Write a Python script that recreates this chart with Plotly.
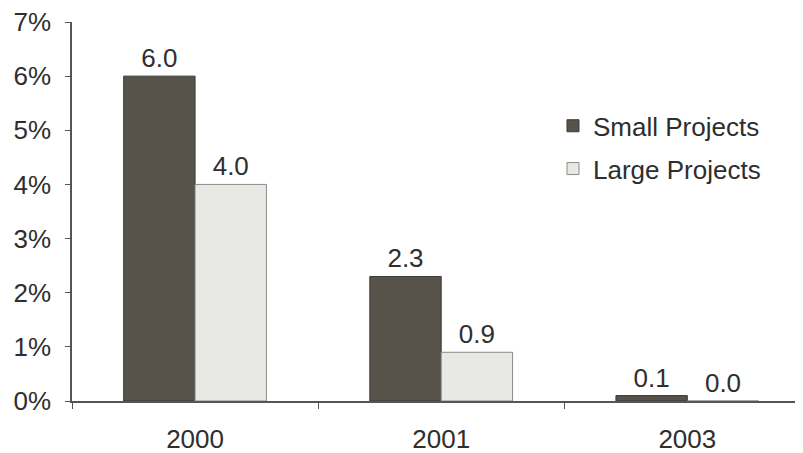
import plotly.graph_objects as go

categories = ["2000", "2001", "2003"]
small_projects = [6.0, 2.3, 0.1]
large_projects = [4.0, 0.9, 0.0]
y_ticks = [0, 1, 2, 3, 4, 5, 6, 7]
y_tick_labels = [f"{v}%" for v in y_ticks]

font_family = "Liberation Sans, Arial, sans-serif"
text_color = "#2e2e2e"
fs = 26

fig = go.Figure()
fig.add_trace(go.Bar(
    x=categories, y=small_projects, name="Small Projects",
    marker=dict(color="#57534b", line=dict(color="#3c3a36", width=1)),
    text=[f"{v:.1f}" for v in small_projects], textposition="outside",
    textfont=dict(size=fs, color=text_color, family=font_family),
    cliponaxis=False, legendgroup="a",
))
fig.add_trace(go.Bar(
    x=categories, y=large_projects, name="Large Projects",
    marker=dict(color="#e8e8e4", line=dict(color="#8a8a86", width=1)),
    text=[f"{v:.1f}" for v in large_projects], textposition="outside",
    textfont=dict(size=fs, color=text_color, family=font_family),
    cliponaxis=False, legendgroup="b",
))

fig.update_layout(
    width=803, height=453,
    margin=dict(l=64, r=8, t=14, b=60, autoexpand=False),
    paper_bgcolor="white", plot_bgcolor="white",
    barmode="group", bargap=0.42, bargroupgap=0,
    font=dict(family=font_family, size=fs, color=text_color),
    showlegend=True,
    legend=dict(x=0.658, y=0.788, xanchor="left", yanchor="top",
                font=dict(size=fs, color=text_color, family=font_family),
                bgcolor="rgba(0,0,0,0)", tracegroupgap=6,
                itemwidth=30),
)
fig.update_xaxes(
    range=[-0.5, 2.47], showline=True, linecolor="#555", linewidth=1.5,
    ticks="outside", tickson="boundaries", ticklen=6, tickcolor="#555",
    tickfont=dict(size=fs, color=text_color, family=font_family),
    ticklabelstandoff=14, ticklabeloverflow="allow",
    showgrid=False, fixedrange=True, automargin=False,
)
fig.update_yaxes(
    range=[0, 7], tickvals=y_ticks, ticktext=y_tick_labels,
    showline=True, linecolor="#555", linewidth=1.5,
    ticks="outside", ticklen=5, tickcolor="#555",
    tickfont=dict(size=fs, color=text_color, family=font_family),
    ticklabelstandoff=9, ticklabeloverflow="allow",
    showgrid=False, zeroline=False, fixedrange=True, automargin=False,
)

fig.write_html("out.html")
